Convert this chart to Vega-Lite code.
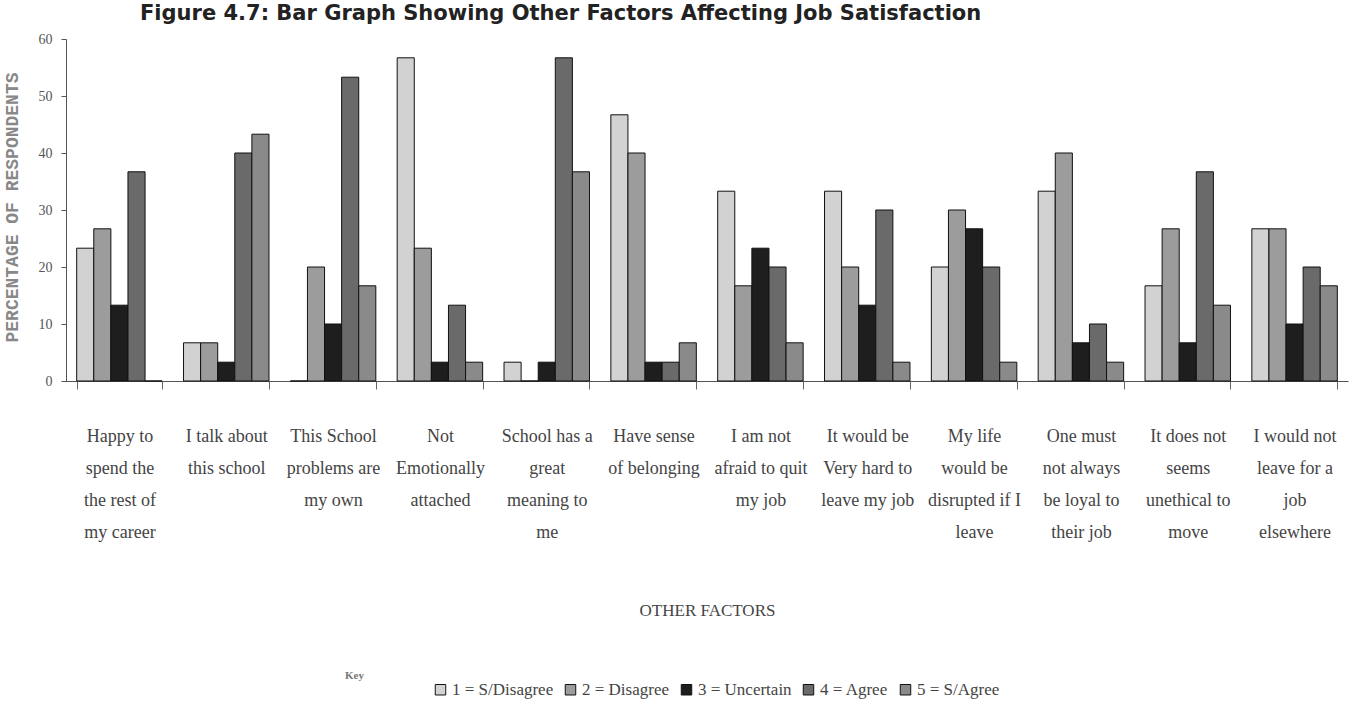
{
  "$schema": "https://vega.github.io/schema/vega-lite/v6.json",
  "width": 1282,
  "height": 342,
  "autosize": {"type": "none"},
  "padding": {"left": 66, "top": 39, "right": 1, "bottom": 333},
  "background": "white",
  "title": {
    "text": "Figure 4.7: Bar Graph Showing Other Factors Affecting Job Satisfaction",
    "anchor": "start",
    "frame": "group",
    "dx": 74,
    "offset": -9,
    "baseline": "alphabetic",
    "font": "DejaVu Sans",
    "fontSize": 21,
    "fontWeight": "bold",
    "color": "#222"
  },
  "data": {
    "values": [
      {"factor": "Happy to|spend the|the rest of|my career", "response": "1 = S/Disagree", "percent": 23.3},
      {"factor": "Happy to|spend the|the rest of|my career", "response": "2 = Disagree", "percent": 26.7},
      {"factor": "Happy to|spend the|the rest of|my career", "response": "3 = Uncertain", "percent": 13.3},
      {"factor": "Happy to|spend the|the rest of|my career", "response": "4 = Agree", "percent": 36.7},
      {"factor": "Happy to|spend the|the rest of|my career", "response": "5 = S/Agree", "percent": 0},
      {"factor": "I talk about|this school", "response": "1 = S/Disagree", "percent": 6.7},
      {"factor": "I talk about|this school", "response": "2 = Disagree", "percent": 6.7},
      {"factor": "I talk about|this school", "response": "3 = Uncertain", "percent": 3.3},
      {"factor": "I talk about|this school", "response": "4 = Agree", "percent": 40},
      {"factor": "I talk about|this school", "response": "5 = S/Agree", "percent": 43.3},
      {"factor": "This School|problems are|my own", "response": "1 = S/Disagree", "percent": 0},
      {"factor": "This School|problems are|my own", "response": "2 = Disagree", "percent": 20},
      {"factor": "This School|problems are|my own", "response": "3 = Uncertain", "percent": 10},
      {"factor": "This School|problems are|my own", "response": "4 = Agree", "percent": 53.3},
      {"factor": "This School|problems are|my own", "response": "5 = S/Agree", "percent": 16.7},
      {"factor": "Not|Emotionally|attached", "response": "1 = S/Disagree", "percent": 56.7},
      {"factor": "Not|Emotionally|attached", "response": "2 = Disagree", "percent": 23.3},
      {"factor": "Not|Emotionally|attached", "response": "3 = Uncertain", "percent": 3.3},
      {"factor": "Not|Emotionally|attached", "response": "4 = Agree", "percent": 13.3},
      {"factor": "Not|Emotionally|attached", "response": "5 = S/Agree", "percent": 3.3},
      {"factor": "School has a|great|meaning to|me", "response": "1 = S/Disagree", "percent": 3.3},
      {"factor": "School has a|great|meaning to|me", "response": "2 = Disagree", "percent": 0},
      {"factor": "School has a|great|meaning to|me", "response": "3 = Uncertain", "percent": 3.3},
      {"factor": "School has a|great|meaning to|me", "response": "4 = Agree", "percent": 56.7},
      {"factor": "School has a|great|meaning to|me", "response": "5 = S/Agree", "percent": 36.7},
      {"factor": "Have sense|of belonging", "response": "1 = S/Disagree", "percent": 46.7},
      {"factor": "Have sense|of belonging", "response": "2 = Disagree", "percent": 40},
      {"factor": "Have sense|of belonging", "response": "3 = Uncertain", "percent": 3.3},
      {"factor": "Have sense|of belonging", "response": "4 = Agree", "percent": 3.3},
      {"factor": "Have sense|of belonging", "response": "5 = S/Agree", "percent": 6.7},
      {"factor": "I am not|afraid to quit|my job", "response": "1 = S/Disagree", "percent": 33.3},
      {"factor": "I am not|afraid to quit|my job", "response": "2 = Disagree", "percent": 16.7},
      {"factor": "I am not|afraid to quit|my job", "response": "3 = Uncertain", "percent": 23.3},
      {"factor": "I am not|afraid to quit|my job", "response": "4 = Agree", "percent": 20},
      {"factor": "I am not|afraid to quit|my job", "response": "5 = S/Agree", "percent": 6.7},
      {"factor": "It would be|Very hard to|leave my job", "response": "1 = S/Disagree", "percent": 33.3},
      {"factor": "It would be|Very hard to|leave my job", "response": "2 = Disagree", "percent": 20},
      {"factor": "It would be|Very hard to|leave my job", "response": "3 = Uncertain", "percent": 13.3},
      {"factor": "It would be|Very hard to|leave my job", "response": "4 = Agree", "percent": 30},
      {"factor": "It would be|Very hard to|leave my job", "response": "5 = S/Agree", "percent": 3.3},
      {"factor": "My life|would be|disrupted if I|leave", "response": "1 = S/Disagree", "percent": 20},
      {"factor": "My life|would be|disrupted if I|leave", "response": "2 = Disagree", "percent": 30},
      {"factor": "My life|would be|disrupted if I|leave", "response": "3 = Uncertain", "percent": 26.7},
      {"factor": "My life|would be|disrupted if I|leave", "response": "4 = Agree", "percent": 20},
      {"factor": "My life|would be|disrupted if I|leave", "response": "5 = S/Agree", "percent": 3.3},
      {"factor": "One must|not always|be loyal to|their job", "response": "1 = S/Disagree", "percent": 33.3},
      {"factor": "One must|not always|be loyal to|their job", "response": "2 = Disagree", "percent": 40},
      {"factor": "One must|not always|be loyal to|their job", "response": "3 = Uncertain", "percent": 6.7},
      {"factor": "One must|not always|be loyal to|their job", "response": "4 = Agree", "percent": 10},
      {"factor": "One must|not always|be loyal to|their job", "response": "5 = S/Agree", "percent": 3.3},
      {"factor": "It does not|seems|unethical to|move", "response": "1 = S/Disagree", "percent": 16.7},
      {"factor": "It does not|seems|unethical to|move", "response": "2 = Disagree", "percent": 26.7},
      {"factor": "It does not|seems|unethical to|move", "response": "3 = Uncertain", "percent": 6.7},
      {"factor": "It does not|seems|unethical to|move", "response": "4 = Agree", "percent": 36.7},
      {"factor": "It does not|seems|unethical to|move", "response": "5 = S/Agree", "percent": 13.3},
      {"factor": "I would not|leave for a|job|elsewhere", "response": "1 = S/Disagree", "percent": 26.7},
      {"factor": "I would not|leave for a|job|elsewhere", "response": "2 = Disagree", "percent": 26.7},
      {"factor": "I would not|leave for a|job|elsewhere", "response": "3 = Uncertain", "percent": 10},
      {"factor": "I would not|leave for a|job|elsewhere", "response": "4 = Agree", "percent": 20},
      {"factor": "I would not|leave for a|job|elsewhere", "response": "5 = S/Agree", "percent": 16.7}
    ]
  },
  "mark": {"type": "bar", "stroke": "#111", "strokeWidth": 1},
  "encoding": {
    "x": {
      "field": "factor",
      "type": "nominal",
      "sort": null,
      "scale": {"paddingInner": 0.2, "paddingOuter": 0.1},
      "axis": {
        "title": "OTHER FACTORS",
        "labelExpr": "split(datum.label, '|')",
        "labelAngle": 0,
        "labelFont": "Liberation Serif",
        "labelFontSize": 18,
        "labelColor": "#444",
        "labelLineHeight": 32,
        "labelBaseline": "top",
        "labelPadding": 38,
        "labelLimit": 0,
        "tickBand": "extent",
        "tickSize": 8,
        "tickColor": "#666",
        "domainColor": "#555",
        "grid": false,
        "titleFont": "Liberation Serif",
        "titleFontSize": 17,
        "titleFontWeight": "normal",
        "titleColor": "#444",
        "titleY": 229,
        "titleBaseline": "middle"
      }
    },
    "xOffset": {"field": "response", "type": "nominal", "sort": null, "scale": {"paddingInner": 0}},
    "y": {
      "field": "percent",
      "type": "quantitative",
      "scale": {"domain": [0, 60]},
      "axis": {
        "title": "PERCENTAGE OF RESPONDENTS",
        "values": [0, 10, 20, 30, 40, 50, 60],
        "grid": false,
        "labelFont": "Liberation Serif",
        "labelFontSize": 14,
        "labelColor": "#555",
        "tickSize": 5,
        "tickColor": "#555",
        "domainColor": "#555",
        "labelPadding": 9,
        "titleFont": "Liberation Mono",
        "titleFontSize": 18,
        "titleFontWeight": "bold",
        "titleColor": "#888",
        "titleX": -54,
        "titleY": 168,
        "titleAngle": 270,
        "titleAlign": "center",
        "titleBaseline": "middle"
      }
    },
    "color": {
      "field": "response",
      "type": "nominal",
      "sort": null,
      "scale": {
        "domain": ["1 = S/Disagree", "2 = Disagree", "3 = Uncertain", "4 = Agree", "5 = S/Agree"],
        "range": ["#d2d2d2", "#9c9c9c", "#1e1e1e", "#6a6a6a", "#8a8a8a"]
      },
      "legend": {
        "orient": "none",
        "legendX": 279,
        "legendY": 642,
        "direction": "horizontal",
        "title": "Key",
        "titleOrient": "left",
        "titleAnchor": "start",
        "titleBaseline": "bottom",
        "titleFont": "Liberation Serif",
        "titleFontSize": 11,
        "titleFontWeight": "bold",
        "titleColor": "#777",
        "titlePadding": 68,
        "symbolType": "square",
        "symbolSize": 110,
        "symbolStrokeColor": "#111",
        "symbolStrokeWidth": 1,
        "symbolOpacity": 1,
        "labelFont": "Liberation Serif",
        "labelFontSize": 17,
        "labelColor": "#444",
        "labelOffset": 3,
        "columnPadding": 8,
        "labelLimit": 0
      }
    }
  },
  "config": {"view": {"stroke": null}}
}
